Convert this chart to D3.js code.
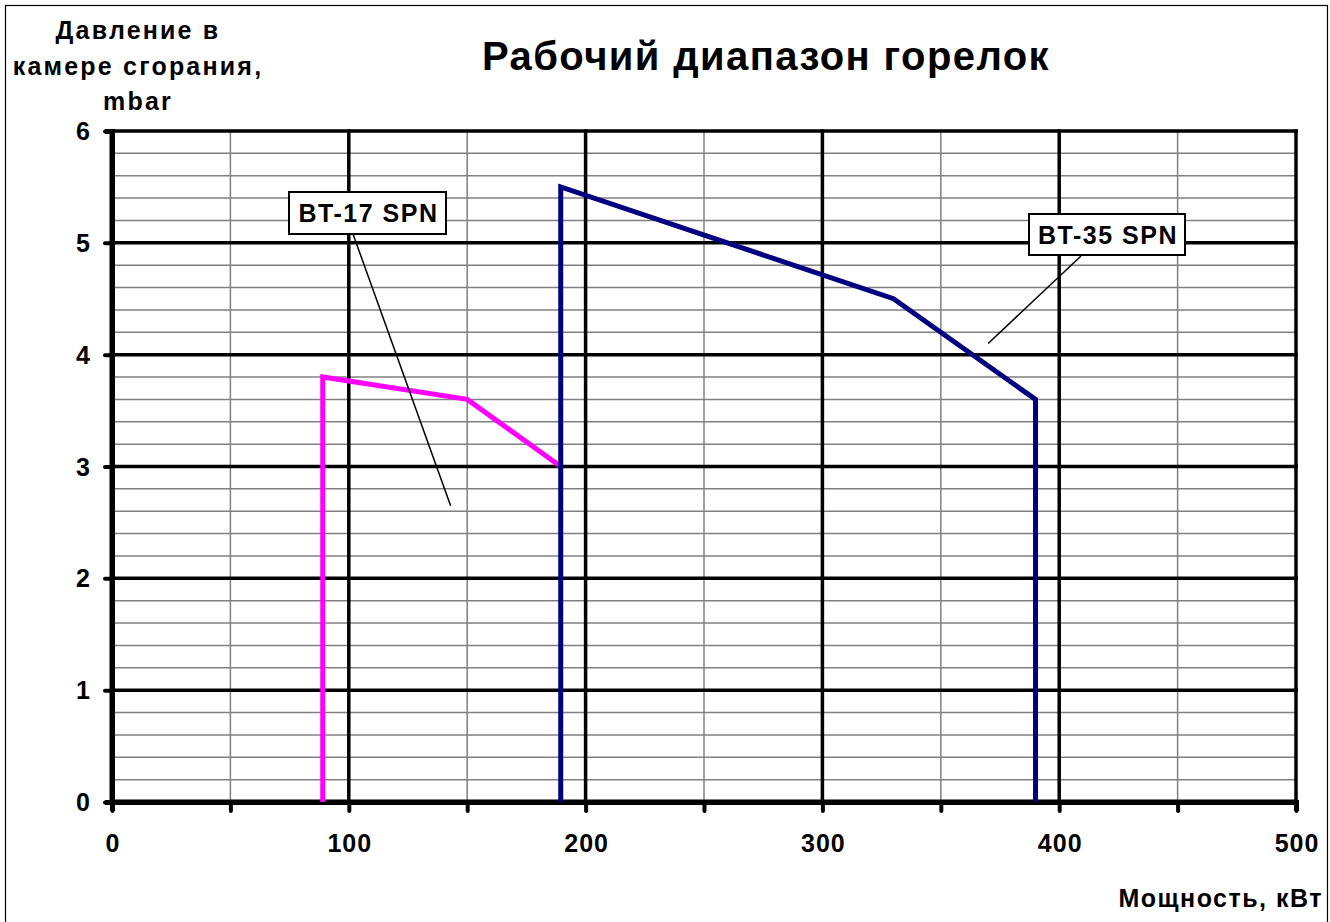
<!DOCTYPE html>
<html><head><meta charset="utf-8">
<script src="https://cdn.jsdelivr.net/npm/d3@7"></script>
<style>body{margin:0;background:#fff}svg{display:block}text{font-family:Arial,"Liberation Sans",sans-serif;font-weight:bold;fill:#000}</style>
</head><body>
<script>
const bt17x = [89, 89, 150, 189.5];
const bt17y = [0, 3.8, 3.6, 3.0];
const bt35x = [189.5, 189.5, 330, 390, 390];
const bt35y = [0, 5.5, 4.5, 3.6, 0];
const xTicks = [0, 100, 200, 300, 400, 500];
const yTicks = [0, 1, 2, 3, 4, 5, 6];
const seriesNames = ["BT-17 SPN", "BT-35 SPN"];
const title = "Рабочий диапазон горелок";
const yTitle = ["Давление в", "камере сгорания,", "mbar"];
const xTitle = "Мощность, кВт";

const W = 1330, H = 922;
const svg = d3.select("body").append("svg").attr("width", W).attr("height", H);
svg.append("rect").attr("x",5.5).attr("y",5.5).attr("width",1322).attr("height",930).attr("fill","#fff").attr("stroke","#000").attr("stroke-width",1.2);

const x = d3.scaleLinear().domain([0,500]).range([112,1296]);
const y = d3.scaleLinear().domain([0,6]).range([802,131]);

// minor grid
const minorY = d3.range(0, 6.001, 0.2).filter(v => Math.abs(v - Math.round(v)) > 1e-6);
svg.append("g").selectAll("line").data(minorY).join("line")
  .attr("x1", x(0)).attr("x2", x(500)).attr("y1", d=>y(d)).attr("y2", d=>y(d))
  .attr("stroke","#808080").attr("stroke-width",1.5);
const minorX = [50,150,250,350,450];
svg.append("g").selectAll("line").data(minorX).join("line")
  .attr("x1", d=>x(d)).attr("x2", d=>x(d)).attr("y1", y(0)).attr("y2", y(6))
  .attr("stroke","#808080").attr("stroke-width",1.5);
// major grid
svg.append("g").selectAll("line").data(yTicks.slice(1)).join("line")
  .attr("x1", x(0)).attr("x2", x(500)+2).attr("y1", d=>y(d)).attr("y2", d=>y(d))
  .attr("stroke","#000").attr("stroke-width",3.5);
svg.append("g").selectAll("line").data(xTicks.slice(1)).join("line")
  .attr("x1", d=>x(d)).attr("x2", d=>x(d)).attr("y1", y(0)).attr("y2", y(6)-1.5)
  .attr("stroke","#000").attr("stroke-width",3.5);

// axes
const xAxis = d3.axisBottom(x).tickValues(d3.range(0,501,50)).tickSize(9).tickFormat("");
const gx = svg.append("g").attr("transform",`translate(0,${y(0)})`).call(xAxis);
gx.select(".domain").attr("stroke","#000").attr("stroke-width",5);
gx.selectAll(".tick line").attr("stroke","#000").attr("stroke-width",4).attr("stroke-linecap","round");
const yAxis = d3.axisLeft(y).tickValues(yTicks).tickSize(7).tickFormat("");
const gy = svg.append("g").attr("transform",`translate(${x(0)},0)`).call(yAxis);
gy.select(".domain").attr("stroke","#000").attr("stroke-width",5);
gy.selectAll(".tick line").attr("stroke","#000").attr("stroke-width",4).attr("stroke-linecap","round");

svg.append("line").attr("x1",x(0)).attr("x2",x(0)).attr("y1",y(6)-2).attr("y2",y(0)+2).attr("stroke","#000").attr("stroke-width",5);
svg.append("line").attr("x1",x(0)-2).attr("x2",x(500)+2).attr("y1",y(0)).attr("y2",y(0)).attr("stroke","#000").attr("stroke-width",5);

// tick labels
svg.append("g").selectAll("text").data(yTicks).join("text")
  .attr("x", 90).attr("y", d=>y(d)+9).attr("text-anchor","end").attr("font-size",25).text(d=>d);
svg.append("g").selectAll("text").data(xTicks).join("text")
  .attr("x", d=>x(d)+1).attr("y", 852).attr("text-anchor","middle").attr("font-size",25).attr("letter-spacing",1).text(d=>d);

// series
const line = d3.line().x(d=>x(d[0])).y(d=>y(d[1]));
svg.append("path").datum(bt17x.map((v,i)=>[v,bt17y[i]])).attr("d",line)
  .attr("fill","none").attr("stroke","#FF00FF").attr("stroke-width",5).attr("stroke-linejoin","miter");
svg.append("path").datum(bt35x.map((v,i)=>[v,bt35y[i]])).attr("d",line)
  .attr("fill","none").attr("stroke","#000080").attr("stroke-width",5).attr("stroke-linejoin","miter");

// callouts
function callout(label, bx, by, bw, bh, lx1, ly1, lx2, ly2) {
  svg.append("line").attr("x1",lx1).attr("y1",ly1).attr("x2",lx2).attr("y2",ly2).attr("stroke","#000").attr("stroke-width",1.5);
  svg.append("rect").attr("x",bx).attr("y",by).attr("width",bw).attr("height",bh).attr("fill","#fff").attr("stroke","#000").attr("stroke-width",2);
  svg.append("text").attr("x",bx+bw/2+1).attr("y",by+bh/2+9).attr("text-anchor","middle").attr("font-size",25).attr("letter-spacing",1.5).text(label);
}
callout(seriesNames[0], 289, 192, 157, 42, 353, 234, x(143), y(2.65));
callout(seriesNames[1], 1029, 214, 156, 41, 1081, 256, x(370), y(4.1));

// titles
svg.append("text").attr("x",766).attr("y",70).attr("text-anchor","middle").attr("font-size",40).attr("letter-spacing",1.4).text(title);
svg.append("g").selectAll("text").data(yTitle).join("text")
  .attr("x",138).attr("y",(d,i)=>[39,75,110][i]).attr("text-anchor","middle").attr("font-size",25).attr("letter-spacing",2.2).text(d=>d);
svg.append("text").attr("x",1323).attr("y",907).attr("text-anchor","end").attr("font-size",25).attr("letter-spacing",1.5).text(xTitle);
</script>
</body></html>
